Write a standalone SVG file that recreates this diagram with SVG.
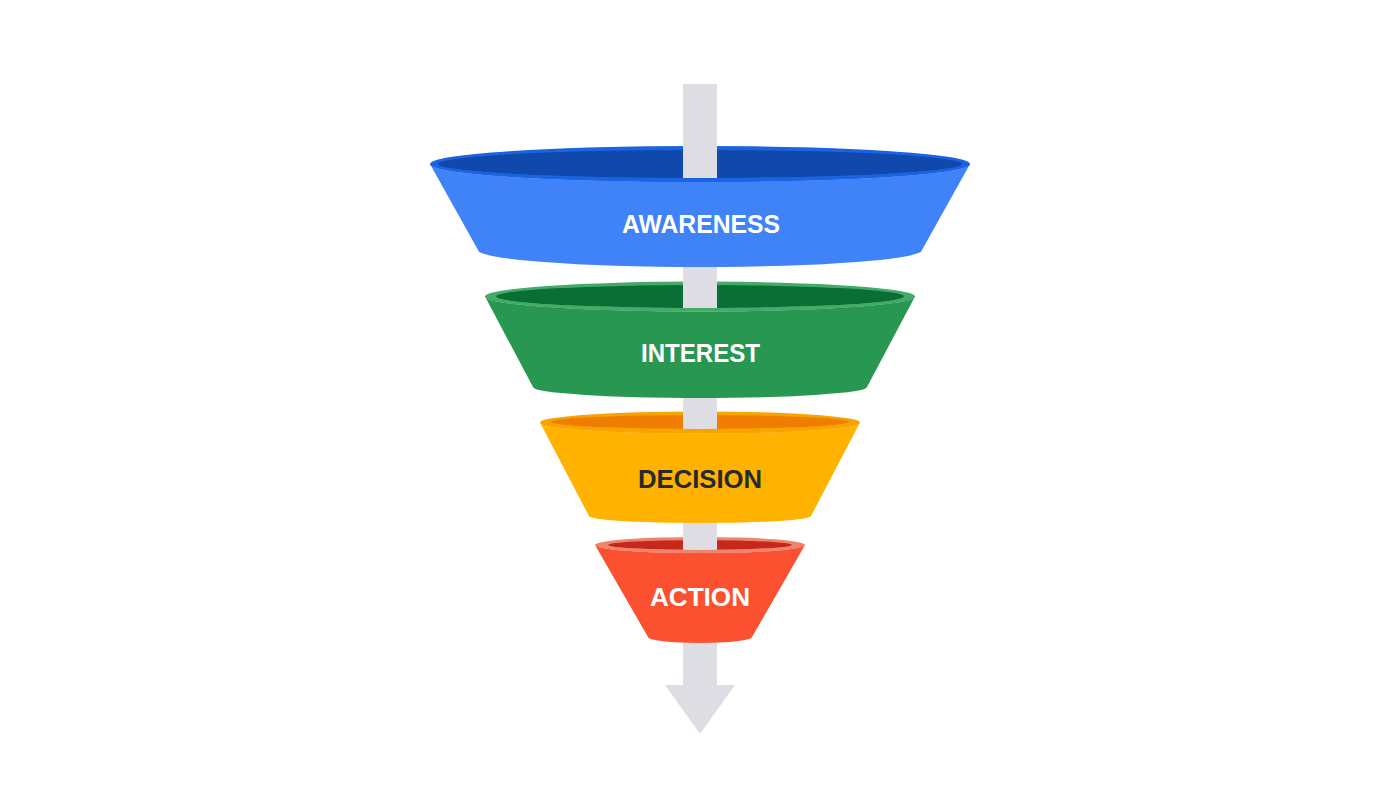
<svg xmlns="http://www.w3.org/2000/svg" width="1400" height="788" viewBox="0 0 1400 788">
<style>
.lbl{font-family:"Liberation Sans",Arial,sans-serif;font-weight:bold;font-size:25px;text-anchor:middle;}
.w{fill:#ffffff}
.d{fill:#262a30}
.shaft{fill:#dedde4}
</style>
<rect width="1400" height="788" fill="#ffffff"/>
<!-- rims (back part, seen through opening) -->
<g id="rims">
<ellipse cx="700" cy="164" rx="270" ry="18" fill="#1a63e2"/>
<ellipse cx="700" cy="164" rx="262" ry="14" fill="#1048ab"/>
<ellipse cx="700" cy="296.5" rx="215" ry="15" fill="#45aa68"/>
<ellipse cx="700" cy="296.5" rx="204" ry="11.5" fill="#0a6e37"/>
<ellipse cx="700" cy="422.5" rx="160" ry="11" fill="#f9a300"/>
<ellipse cx="700" cy="422" rx="149" ry="7" fill="#ef7e00"/>
<ellipse cx="700" cy="545" rx="105" ry="8" fill="#f0836c"/>
<ellipse cx="700" cy="545" rx="92" ry="5" fill="#c4291b"/>
</g>
<g id="connectors">
<rect class="shaft" x="683" y="84" width="34" height="602"/>
<polygon class="shaft" points="665,685 735,685 700,734"/>
</g>
<g id="awareness">
<path d="M430,164 L478,250 A222 17 0 0 0 922,250 L970,164 A270 18 0 0 1 430,164 Z" fill="#4082f8"/>
<path d="M430,164 A270 18 0 0 0 970,164 L962,164 A262 14 0 0 1 438,164 Z" fill="#1a63e2"/>
<text class="lbl w" x="701" y="233" textLength="158" lengthAdjust="spacingAndGlyphs">AWARENESS</text>
</g>
<g id="interest">
<path d="M485,296.5 L533,387 A167 11 0 0 0 867,387 L915,296.5 A215 15 0 0 1 485,296.5 Z" fill="#289752"/>
<path d="M485,296.5 A215 15 0 0 0 915,296.5 L904,296.5 A204 11.5 0 0 1 496,296.5 Z" fill="#45aa68"/>
<text class="lbl w" x="700.5" y="362" textLength="119" lengthAdjust="spacingAndGlyphs">INTEREST</text>
</g>
<g id="decision">
<path d="M540,422.5 L589,516 A111 7 0 0 0 811,516 L860,422.5 A160 11 0 0 1 540,422.5 Z" fill="#ffb300"/>
<path d="M540,422.5 A160 11 0 0 0 860,422.5 L849,422 A149 7 0 0 1 551,422 Z" fill="#f9a300"/>
<text class="lbl d" x="700" y="488" textLength="124" lengthAdjust="spacingAndGlyphs">DECISION</text>
</g>
<g id="action">
<path d="M595,545 L648,637 A52 6 0 0 0 752,637 L805,545 A105 8 0 0 1 595,545 Z" fill="#fc5130"/>
<path d="M595,545 A105 8 0 0 0 805,545 L792,545 A92 5 0 0 1 608,545 Z" fill="#f0836c"/>
<text class="lbl w" x="700" y="606" textLength="100" lengthAdjust="spacingAndGlyphs">ACTION</text>
</g>
</svg>
